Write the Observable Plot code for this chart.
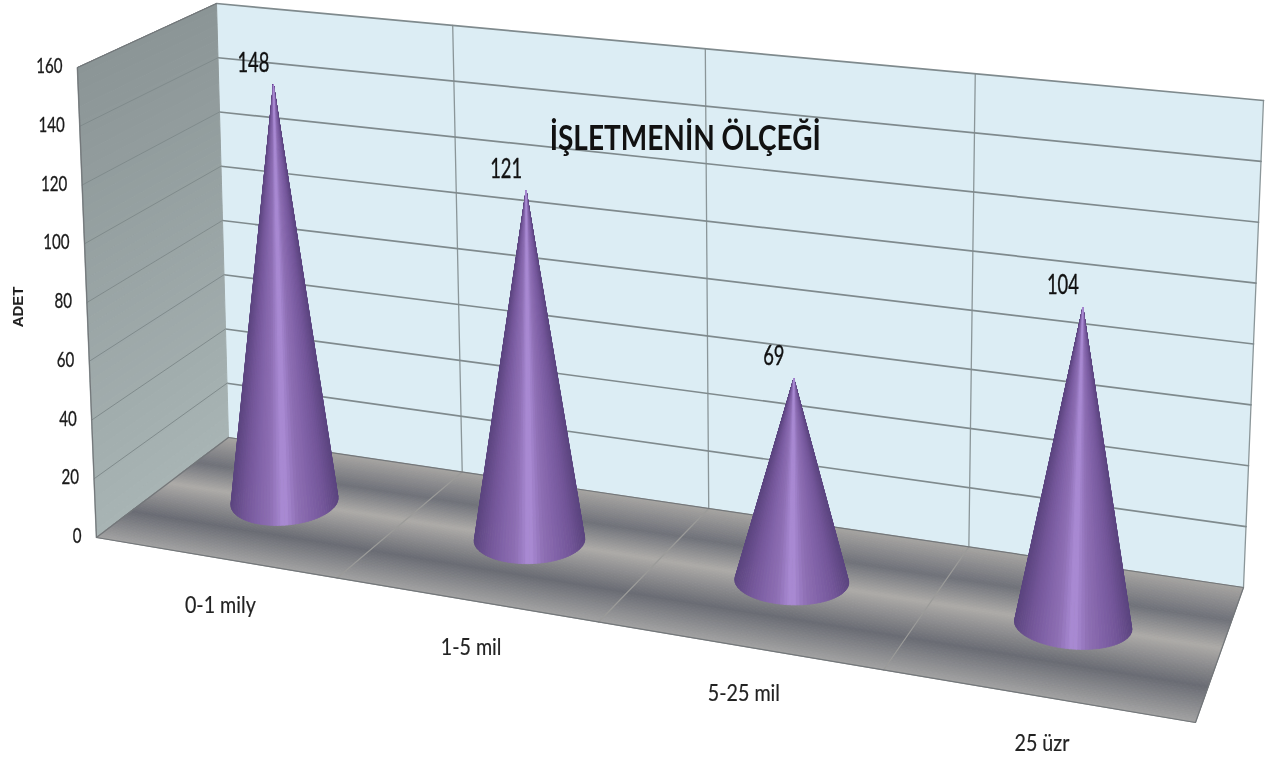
<!DOCTYPE html>
<html><head><meta charset="utf-8">
<script src="https://cdn.jsdelivr.net/npm/d3@7"></script>
<script src="https://cdn.jsdelivr.net/npm/@observablehq/plot@0.6"></script>
<style>html,body{margin:0;padding:0;background:#fff}svg{display:block}</style>
</head><body><div id="chart"></div>
<script>
const categories = ["0-1 mily", "1-5 mil", "5-25 mil", "25 üzr"];
const values = [148, 121, 69, 104];
const tickValues = [0, 20, 40, 60, 80, 100, 120, 140, 160];
const titleText = "İŞLETMENİN ÖLÇEĞİ";
const axisText = "ADET";

// Perspective frame of the 3D box (screen corners): front-left, front-right, back-right, back-left
const floorQuad = [[96,537],[1195,722],[1243,587],[228,437]];
const topQuad   = [[77,67],[1215,194],[1263,100],[216,3]];
const maxValue = 160;

function homography(q){
  const [[x0,y0],[x1,y1],[x2,y2],[x3,y3]] = q;
  const dx1=x1-x2,dx2=x3-x2,sx=x0-x1+x2-x3,dy1=y1-y2,dy2=y3-y2,sy=y0-y1+y2-y3;
  const det=dx1*dy2-dx2*dy1;
  const g=(sx*dy2-dx2*sy)/det,h=(dx1*sy-sx*dy1)/det;
  const a=x1-x0+g*x1,b=x3-x0+h*x3,d=y1-y0+g*y1,e=y3-y0+h*y3;
  return (u,w)=>{const k=g*u+h*w+1;return [(a*u+b*w+x0)/k,(d*u+e*w+y0)/k];};
}
const hBottom = homography(floorQuad), hTop = homography(topQuad);
// u: category position 0..n, w: depth 0 front..1 back, v: data value
function P(u,w,v){
  const uu=u/categories.length;
  const [xa,ya]=hBottom(uu+.05*w*uu*(1-uu),w),[xb,yb]=hTop(uu+.09*uu*(1-uu),w),t=v/maxValue;
  return [xa+(xb-xa)*t,ya+(yb-ya)*t];
}
const seg = (a,b,id)=>[{x:a[0],y:a[1],id},{x:b[0],y:b[1],id}];
const n = categories.length;

// floor strips, shaded by depth
const floorRamp = d3.scaleLinear().domain([0,.27,.48,.76,1]).range(["#a8a6a3","#70727a","#adaba8","#6a6c74","#a2a2a2"]).interpolate(d3.interpolateRgb);
const floorRows = d3.range(90).flatMap(i=>{
  const w0=1-i/90,w1=1-(i+1)/90,color=floorRamp((i+.5)/90);
  return [[0,w0],[n,w0],[n,w1],[0,w1]].map(([u,w])=>{const p=P(u,w,0);return {x:p[0],y:p[1],id:i,color};});
});
// left wall
const wallRamp = d3.interpolateRgb("#8b9596","#a8b4b4");
const wallRows = d3.range(60).flatMap(i=>{
  const v0=maxValue*(1-i/60),v1=maxValue*(1-(i+1)/60),color=wallRamp((i+.5)/60);
  return [[0,v0],[1,v0],[1,v1],[0,v1]].map(([w,v])=>{const p=P(0,w,v);return {x:p[0],y:p[1],id:i,color};});
});
const backRows = [[0,0],[n,0],[n,maxValue],[0,maxValue]].map(([u,v])=>{const p=P(u,1,v);return {x:p[0],y:p[1]};});

const backGrid = tickValues.slice(1).flatMap(v=>seg(P(0,1,v),P(n,1,v),v));
const backVert = d3.range(1,n+1).flatMap(i=>seg(P(i,1,0),P(i,1,maxValue),i));
const sideGrid = tickValues.slice(1).flatMap(v=>seg(P(0,0,v),P(0,1,v),v));
const floorDiv = d3.range(1,n).flatMap(i=>seg(P(i,0,0),P(i,1,0),i));
const edgeRows = [[P(0,0,0),P(n,0,0)],[P(n,0,0),P(n,1,0)],[P(0,1,0),P(n,1,0)],[P(0,0,0),P(0,1,0)],[P(0,0,0),P(0,0,maxValue)],[P(0,0,maxValue),P(0,1,maxValue)]]
  .flatMap((s,i)=>seg(s[0],s[1],i));

// cones: fans from the apex to the base ellipse
const coneRamp = d3.piecewise(d3.interpolateRgb,["#5c4580","#735699","#8162a8","#8e6fb4","#ac8dd6","#8e6fb4","#8163a8","#725597","#5c4580"]);
const ry = 23.5, steps = 96, coneDepth = .52, tipDrop = 6;
const apexAt = (v,i)=>{const p=P(i+.5,coneDepth,v);return [p[0],p[1]+tipDrop];};
const apexes = values.map((v,i)=>({value:v,p:apexAt(v,i)}));
const coneRows = values.flatMap((v,i)=>{
  const c=P(i+.5,coneDepth,0),rx=53.5+1.7*i,tilt=-3.5+2.5*i,apex=apexAt(v,i);
  const at=t=>[c[0]+rx*Math.cos(t),c[1]+tilt*Math.cos(t)+ry*Math.sin(t)];
  const angle=k=>2*Math.PI*(k+.5)/steps;
  const rank=k=>(Math.sin(angle(k))>0?1:0)*10-Math.abs(Math.cos(angle(k)));
  const order=d3.sort(d3.range(steps),rank);
  return order.flatMap(k=>{
    const t0=2*Math.PI*k/steps,t1=2*Math.PI*(k+1)/steps;
    const color=coneRamp((1-Math.cos(angle(k)))/2);
    return [apex,at(t0),at(t1)].map(p=>({x:p[0],y:p[1],id:`${i}-${k}`,color}));
  });
});

const font = "Lato,sans-serif";
const poly = (rows,o={})=>Plot.line(rows,{x:"x",y:"y",z:"id",curve:"linear-closed",fill:"color",stroke:"color",strokeWidth:.8,...o});
const gridLine = (rows,stroke,w)=>Plot.line(rows,{x:"x",y:"y",z:"id",stroke,strokeWidth:w});
const floorPoly = poly(floorRows,{strokeWidth:1});
const wallPoly = poly(wallRows,{strokeWidth:1});

const chart = Plot.plot({
  width:1271,height:758,margin:0,
  style:{background:"#fff",filter:"blur(0.45px)"},
  x:{domain:[0,1271],range:[0,1271],axis:null},
  y:{domain:[0,758],range:[0,758],axis:null},
  color:{type:"identity"},
  marks:[
    Plot.line(backRows,{x:"x",y:"y",curve:"linear-closed",fill:"#dcedf4",stroke:"none"}),
    gridLine(backVert,"#8b9699",1.3),
    gridLine(backGrid,"#7f8a8d",1.7),
    wallPoly,
    gridLine(sideGrid,"#808b8c",1),
    floorPoly,
    gridLine(floorDiv,"#9b9b99",1.2),
    gridLine(edgeRows,"#73777a",1.2),
    poly(coneRows),
    Plot.text(tickValues,{x:v=>P(0,0,v)[0],y:v=>P(0,0,v)[1],text:d=>String(d),dx:-15,dy:-1,textAnchor:"end",fontSize:21,fontFamily:font,fill:"#1a1a1a",stroke:"#1a1a1a",strokeWidth:.3}),
    Plot.text(apexes,{x:d=>d.p[0],y:d=>d.p[1],text:d=>String(d.value),dx:-20,dy:-22,fontSize:27,fontFamily:font,fill:"#111",stroke:"#111",strokeWidth:.4}),
    Plot.text(categories,{x:(d,i)=>P(i+.5,0,0)[0],y:(d,i)=>P(i+.5,0,0)[1],text:d=>d,dx:6,dy:48,fontSize:24,fontFamily:font,fill:"#222",stroke:"#222",strokeWidth:.2}),
    Plot.text([titleText],{x:()=>P(1.92,1,128)[0],y:()=>P(1.92,1,128)[1],text:d=>d,fontSize:35,fontWeight:"bold",fontFamily:font,fill:"#111"}),
    Plot.text([axisText],{x:()=>P(0,0,78.5)[0],y:()=>P(0,0,78.5)[1],text:d=>d,dx:-69,rotate:-90,fontSize:15,fontWeight:"bold",fontFamily:"'Liberation Sans',sans-serif",fill:"#222"})
  ]
});
document.getElementById("chart").append(chart);
// The reference face is much narrower than any installed one: condense the glyphs
const squeeze = {21:.72,27:.68,24:.82,35:.8};
for (const [size,f] of Object.entries(squeeze))
  chart.querySelectorAll(`g[font-size="${size}"] text`).forEach(t=>{
    t.setAttribute("textLength",t.getComputedTextLength()*f);
    t.setAttribute("lengthAdjust","spacingAndGlyphs");
  });
</script></body></html>
